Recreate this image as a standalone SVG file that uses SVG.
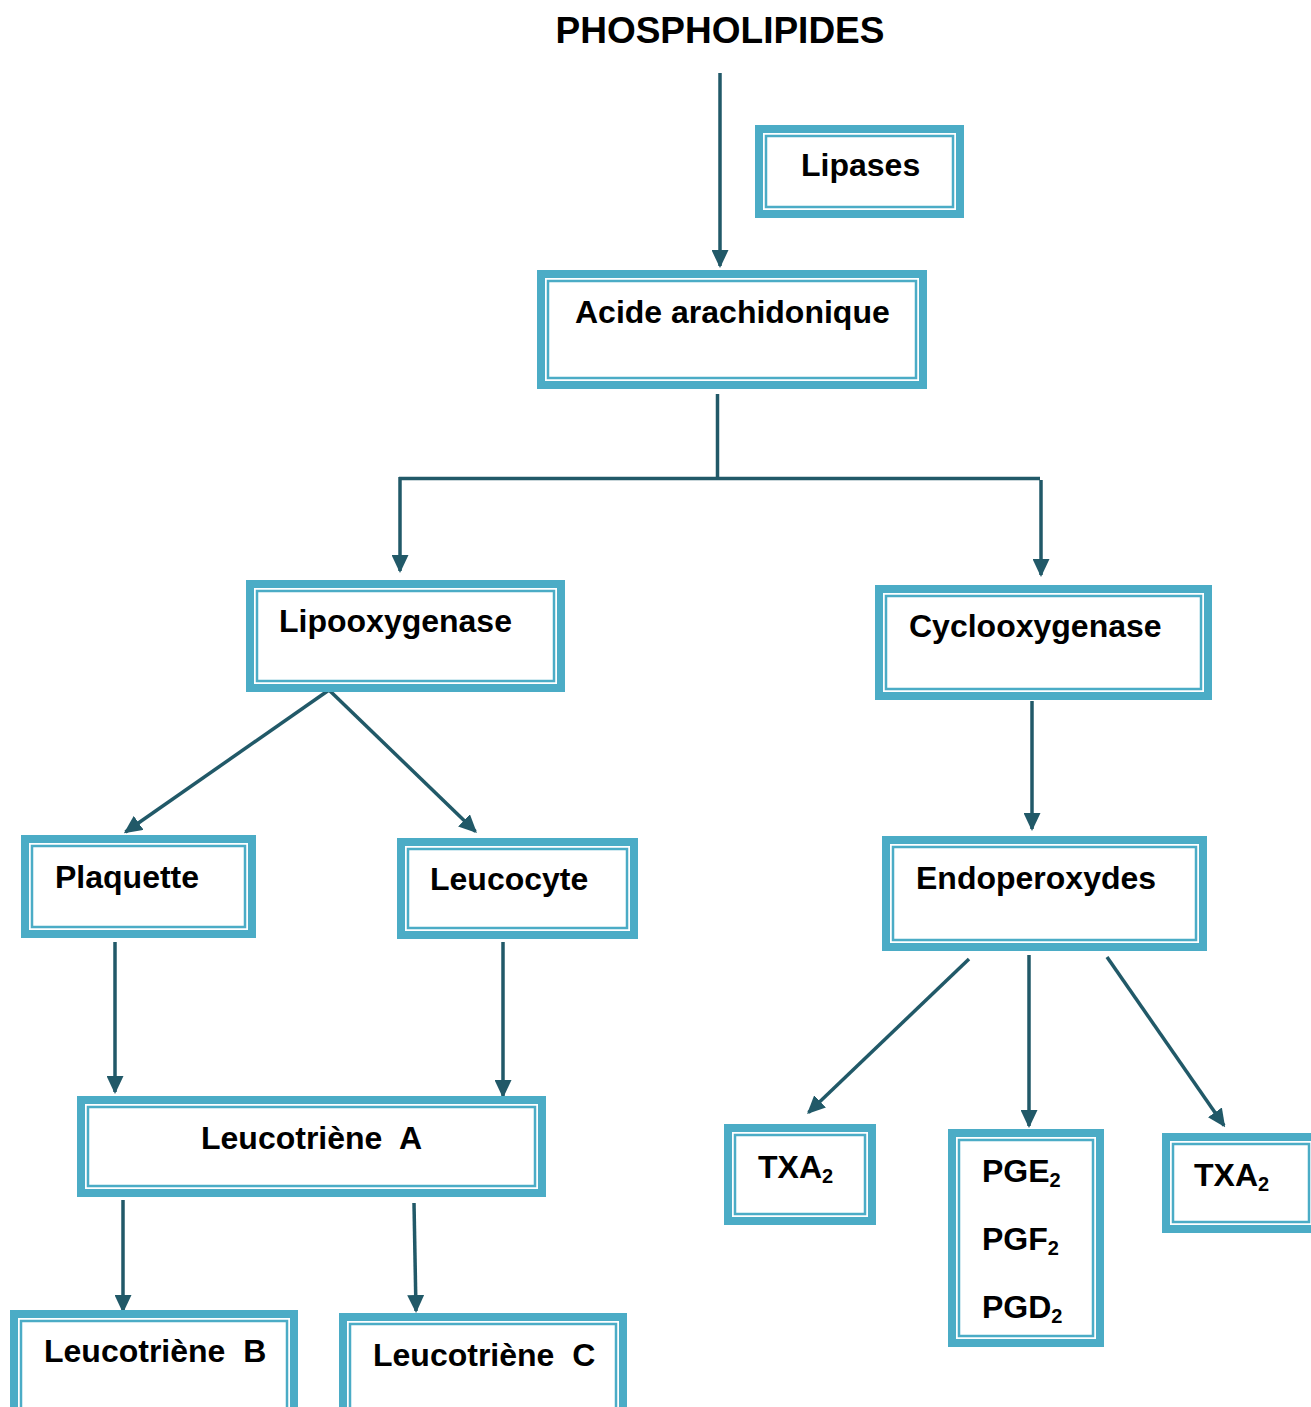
<svg xmlns="http://www.w3.org/2000/svg" width="1311" height="1407" viewBox="0 0 1311 1407">
<style>
.outer{fill:#fff;stroke:#4BACC6;stroke-width:8}
.inner{fill:none;stroke:#4BACC6;stroke-width:2.5}
.t{font-family:"Liberation Sans",Arial,sans-serif;font-weight:bold;font-size:32px;fill:#000}
.sub{font-size:20px}
.c{fill:none;stroke:#215968;stroke-width:3.5}
.ca{fill:none;stroke:#215968;stroke-width:3.5;marker-end:url(#ah)}
</style>
<defs>
<marker id="ah" markerUnits="userSpaceOnUse" markerWidth="18" markerHeight="17" refX="16" refY="8.5" orient="auto">
<path d="M0,0 L18,8.5 L0,17 z" fill="#215968"/>
</marker>
</defs>
<rect width="1311" height="1407" fill="#fff"/>
<text class="t" x="720" y="43" text-anchor="middle" style="font-size:37px">PHOSPHOLIPIDES</text>

<g id="connectors">
<line class="ca" x1="720" y1="73" x2="720" y2="266"/>
<line class="c" x1="717.5" y1="394" x2="717.5" y2="478"/>
<line class="c" x1="399" y1="478.5" x2="1040" y2="478.5"/>
<line class="ca" x1="400" y1="477" x2="400" y2="571"/>
<line class="ca" x1="1041" y1="480" x2="1041" y2="575"/>
<line class="ca" x1="329" y1="690" x2="125.5" y2="832"/>
<line class="ca" x1="329" y1="690" x2="475.5" y2="831.5"/>
<line class="ca" x1="1032" y1="701" x2="1032" y2="829"/>
<line class="ca" x1="115" y1="942" x2="115" y2="1092"/>
<line class="ca" x1="503" y1="942" x2="503" y2="1096"/>
<line class="ca" x1="969" y1="959" x2="808.5" y2="1112.5"/>
<line class="ca" x1="1029" y1="955" x2="1029" y2="1126"/>
<line class="ca" x1="1107" y1="957" x2="1224" y2="1125.5"/>
<line class="ca" x1="123" y1="1200" x2="123" y2="1311"/>
<line class="ca" x1="414" y1="1203" x2="416" y2="1311"/>
</g>

<g id="lipases">
<rect class="outer" x="759" y="129" width="201" height="85"/>
<rect class="inner" x="766" y="136" width="187" height="71"/>
<text class="t" x="801" y="176">Lipases</text>
</g>

<g id="acide">
<rect class="outer" x="541" y="274" width="382" height="111"/>
<rect class="inner" x="548" y="281" width="368" height="97"/>
<text class="t" x="575" y="323">Acide arachidonique</text>
</g>

<g id="lipooxygenase">
<rect class="outer" x="250" y="584" width="311" height="104"/>
<rect class="inner" x="257" y="591" width="297" height="90"/>
<text class="t" x="279" y="632">Lipooxygenase</text>
</g>

<g id="cyclooxygenase">
<rect class="outer" x="879" y="589" width="329" height="107"/>
<rect class="inner" x="886" y="596" width="315" height="93"/>
<text class="t" x="909" y="637">Cyclooxygenase</text>
</g>

<g id="plaquette">
<rect class="outer" x="25" y="839" width="227" height="95"/>
<rect class="inner" x="32" y="846" width="213" height="81"/>
<text class="t" x="55" y="888">Plaquette</text>
</g>

<g id="leucocyte">
<rect class="outer" x="401" y="842" width="233" height="93"/>
<rect class="inner" x="408" y="849" width="219" height="79"/>
<text class="t" x="430" y="890">Leucocyte</text>
</g>

<g id="endoperoxydes">
<rect class="outer" x="886" y="840" width="317" height="107"/>
<rect class="inner" x="893" y="847" width="303" height="93"/>
<text class="t" x="916" y="889">Endoperoxydes</text>
</g>

<g id="leucotrieneA">
<rect class="outer" x="81" y="1100" width="461" height="93"/>
<rect class="inner" x="88" y="1107" width="447" height="79"/>
<text class="t" x="201" y="1149" xml:space="preserve">Leucotriène  A</text>
</g>

<g id="txa2-left">
<rect class="outer" x="728" y="1128" width="144" height="93"/>
<rect class="inner" x="735" y="1135" width="130" height="79"/>
<text class="t" x="758" y="1178">TXA<tspan class="sub" dy="5">2</tspan></text>
</g>

<g id="pg">
<rect class="outer" x="952" y="1133" width="148" height="210"/>
<rect class="inner" x="959" y="1140" width="134" height="196"/>
<text class="t" x="982" y="1182">PGE<tspan class="sub" dy="5">2</tspan></text>
<text class="t" x="982" y="1250">PGF<tspan class="sub" dy="5">2</tspan></text>
<text class="t" x="982" y="1318">PGD<tspan class="sub" dy="5">2</tspan></text>
</g>

<g id="txa2-right">
<rect class="outer" x="1166" y="1137" width="150" height="92"/>
<rect class="inner" x="1173" y="1144" width="136" height="78"/>
<text class="t" x="1194" y="1186">TXA<tspan class="sub" dy="5">2</tspan></text>
</g>

<g id="leucotrieneB">
<rect class="outer" x="14" y="1314" width="280" height="110"/>
<rect class="inner" x="21" y="1321" width="266" height="96"/>
<text class="t" x="44" y="1362" xml:space="preserve">Leucotriène  B</text>
</g>

<g id="leucotrieneC">
<rect class="outer" x="343" y="1317" width="280" height="110"/>
<rect class="inner" x="350" y="1324" width="266" height="96"/>
<text class="t" x="373" y="1366" xml:space="preserve">Leucotriène  C</text>
</g>
</svg>
